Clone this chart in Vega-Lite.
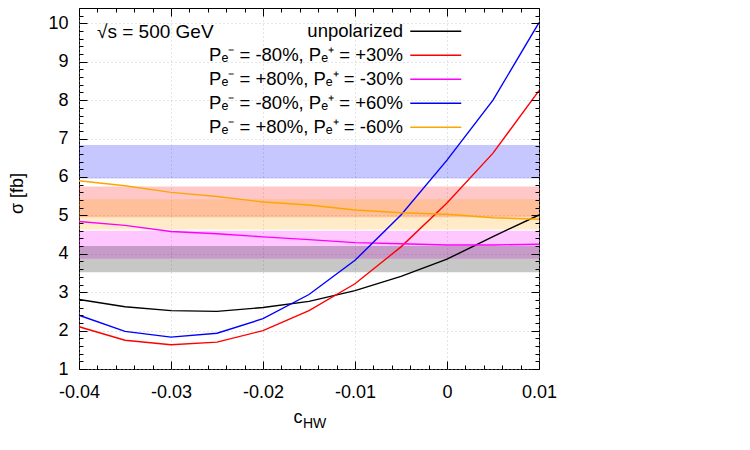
{
  "$schema": "https://vega.github.io/schema/vega-lite/v6.json",
  "width": 460,
  "height": 361,
  "autosize": {"type": "none"},
  "padding": {"left": 79, "top": 8, "right": 211, "bottom": 81},
  "background": "white",
  "title": {
    "text": "√s = 500 GeV",
    "anchor": "start",
    "frame": "group",
    "orient": "top",
    "offset": 0,
    "dx": 18,
    "dy": 49,
    "baseline": "alphabetic",
    "fontSize": 19,
    "fontWeight": "normal",
    "font": "Liberation Sans",
    "color": "black"
  },
  "config": {
    "view": {"stroke": "black", "strokeWidth": 1},
    "font": "Liberation Sans"
  },
  "datasets": {
    "curves": [
      {"c": -0.04, "sigma": 2.81, "series": "unpolarized"},
      {"c": -0.035, "sigma": 2.62, "series": "unpolarized"},
      {"c": -0.03, "sigma": 2.52, "series": "unpolarized"},
      {"c": -0.025, "sigma": 2.5, "series": "unpolarized"},
      {"c": -0.02, "sigma": 2.6, "series": "unpolarized"},
      {"c": -0.015, "sigma": 2.76, "series": "unpolarized"},
      {"c": -0.01, "sigma": 3.04, "series": "unpolarized"},
      {"c": -0.005, "sigma": 3.41, "series": "unpolarized"},
      {"c": 0, "sigma": 3.86, "series": "unpolarized"},
      {"c": 0.005, "sigma": 4.45, "series": "unpolarized"},
      {"c": 0.01, "sigma": 5.01, "series": "unpolarized"},
      {"c": -0.04, "sigma": 2.1, "series": "Pₑ⁻ = -80%, Pₑ⁺ = +30%"},
      {"c": -0.035, "sigma": 1.75, "series": "Pₑ⁻ = -80%, Pₑ⁺ = +30%"},
      {"c": -0.03, "sigma": 1.63, "series": "Pₑ⁻ = -80%, Pₑ⁺ = +30%"},
      {"c": -0.025, "sigma": 1.7, "series": "Pₑ⁻ = -80%, Pₑ⁺ = +30%"},
      {"c": -0.02, "sigma": 2.0, "series": "Pₑ⁻ = -80%, Pₑ⁺ = +30%"},
      {"c": -0.015, "sigma": 2.52, "series": "Pₑ⁻ = -80%, Pₑ⁺ = +30%"},
      {"c": -0.01, "sigma": 3.22, "series": "Pₑ⁻ = -80%, Pₑ⁺ = +30%"},
      {"c": -0.005, "sigma": 4.18, "series": "Pₑ⁻ = -80%, Pₑ⁺ = +30%"},
      {"c": 0, "sigma": 5.32, "series": "Pₑ⁻ = -80%, Pₑ⁺ = +30%"},
      {"c": 0.005, "sigma": 6.62, "series": "Pₑ⁻ = -80%, Pₑ⁺ = +30%"},
      {"c": 0.01, "sigma": 8.25, "series": "Pₑ⁻ = -80%, Pₑ⁺ = +30%"},
      {"c": -0.04, "sigma": 4.84, "series": "Pₑ⁻ = +80%, Pₑ⁺ = -30%"},
      {"c": -0.035, "sigma": 4.74, "series": "Pₑ⁻ = +80%, Pₑ⁺ = -30%"},
      {"c": -0.03, "sigma": 4.58, "series": "Pₑ⁻ = +80%, Pₑ⁺ = -30%"},
      {"c": -0.025, "sigma": 4.52, "series": "Pₑ⁻ = +80%, Pₑ⁺ = -30%"},
      {"c": -0.02, "sigma": 4.44, "series": "Pₑ⁻ = +80%, Pₑ⁺ = -30%"},
      {"c": -0.015, "sigma": 4.37, "series": "Pₑ⁻ = +80%, Pₑ⁺ = -30%"},
      {"c": -0.01, "sigma": 4.29, "series": "Pₑ⁻ = +80%, Pₑ⁺ = -30%"},
      {"c": -0.005, "sigma": 4.26, "series": "Pₑ⁻ = +80%, Pₑ⁺ = -30%"},
      {"c": 0, "sigma": 4.23, "series": "Pₑ⁻ = +80%, Pₑ⁺ = -30%"},
      {"c": 0.005, "sigma": 4.23, "series": "Pₑ⁻ = +80%, Pₑ⁺ = -30%"},
      {"c": 0.01, "sigma": 4.25, "series": "Pₑ⁻ = +80%, Pₑ⁺ = -30%"},
      {"c": -0.04, "sigma": 2.4, "series": "Pₑ⁻ = -80%, Pₑ⁺ = +60%"},
      {"c": -0.035, "sigma": 1.98, "series": "Pₑ⁻ = -80%, Pₑ⁺ = +60%"},
      {"c": -0.03, "sigma": 1.83, "series": "Pₑ⁻ = -80%, Pₑ⁺ = +60%"},
      {"c": -0.025, "sigma": 1.93, "series": "Pₑ⁻ = -80%, Pₑ⁺ = +60%"},
      {"c": -0.02, "sigma": 2.31, "series": "Pₑ⁻ = -80%, Pₑ⁺ = +60%"},
      {"c": -0.015, "sigma": 2.94, "series": "Pₑ⁻ = -80%, Pₑ⁺ = +60%"},
      {"c": -0.01, "sigma": 3.83, "series": "Pₑ⁻ = -80%, Pₑ⁺ = +60%"},
      {"c": -0.005, "sigma": 5.01, "series": "Pₑ⁻ = -80%, Pₑ⁺ = +60%"},
      {"c": 0, "sigma": 6.44, "series": "Pₑ⁻ = -80%, Pₑ⁺ = +60%"},
      {"c": 0.005, "sigma": 8.0, "series": "Pₑ⁻ = -80%, Pₑ⁺ = +60%"},
      {"c": 0.01, "sigma": 10.02, "series": "Pₑ⁻ = -80%, Pₑ⁺ = +60%"},
      {"c": -0.04, "sigma": 5.9, "series": "Pₑ⁻ = +80%, Pₑ⁺ = -60%"},
      {"c": -0.035, "sigma": 5.77, "series": "Pₑ⁻ = +80%, Pₑ⁺ = -60%"},
      {"c": -0.03, "sigma": 5.6, "series": "Pₑ⁻ = +80%, Pₑ⁺ = -60%"},
      {"c": -0.025, "sigma": 5.49, "series": "Pₑ⁻ = +80%, Pₑ⁺ = -60%"},
      {"c": -0.02, "sigma": 5.35, "series": "Pₑ⁻ = +80%, Pₑ⁺ = -60%"},
      {"c": -0.015, "sigma": 5.27, "series": "Pₑ⁻ = +80%, Pₑ⁺ = -60%"},
      {"c": -0.01, "sigma": 5.14, "series": "Pₑ⁻ = +80%, Pₑ⁺ = -60%"},
      {"c": -0.005, "sigma": 5.07, "series": "Pₑ⁻ = +80%, Pₑ⁺ = -60%"},
      {"c": 0, "sigma": 5.03, "series": "Pₑ⁻ = +80%, Pₑ⁺ = -60%"},
      {"c": 0.005, "sigma": 4.94, "series": "Pₑ⁻ = +80%, Pₑ⁺ = -60%"},
      {"c": 0.01, "sigma": 4.9, "series": "Pₑ⁻ = +80%, Pₑ⁺ = -60%"}
    ],
    "bands": [
      {"band": "blue", "lo": 5.96, "hi": 6.83},
      {"band": "red", "lo": 4.95, "hi": 5.75},
      {"band": "orange", "lo": 4.63, "hi": 5.42},
      {"band": "magenta", "lo": 3.87, "hi": 4.6},
      {"band": "grey", "lo": 3.52, "hi": 4.2}
    ]
  },
  "resolve": {"axis": {"x": "independent", "y": "independent"}},
  "layer": [
    {
      "data": {"name": "bands"},
      "mark": {"type": "rect", "fillOpacity": 0.22, "strokeWidth": 0},
      "encoding": {
        "y": {"field": "lo", "type": "quantitative", "scale": {"domain": [1, 10.4]}, "axis": null},
        "y2": {"field": "hi"},
        "fill": {
          "field": "band", "type": "nominal",
          "scale": {
            "domain": ["grey", "red", "magenta", "blue", "orange"],
            "range": ["#000000", "#ff0000", "#ff00ff", "#0000ff", "#ffa500"]
          },
          "legend": null
        }
      }
    },
    {
      "data": {"name": "curves"},
      "mark": {"type": "line", "strokeWidth": 1.4},
      "encoding": {
        "x": {
          "field": "c", "type": "quantitative",
          "scale": {"domain": [-0.04, 0.01]},
          "axis": {
            "orient": "bottom", "offset": 0,
            "values": [-0.04, -0.03, -0.02, -0.01, 0, 0.01],
            "labelExpr": "datum.value == 0 ? '0' : replace(format(datum.value, '.2f'), '−', '-')",
            "ticks": false, "tickSize": 0, "domain": false,
            "grid": true, "gridDash": [1, 3], "gridColor": "#b4b4b4", "gridWidth": 0.7,
            "labelFontSize": 18, "labelFont": "Liberation Sans", "labelColor": "black",
            "labelPadding": 14, "labelFlush": false, "labelOverlap": false, "labelBound": false,
            "title": "c", "titleFontSize": 18, "titleFontWeight": "normal", "titleFont": "Liberation Sans",
            "titleColor": "black", "titleX": 214, "titleY": 53, "titleAlign": "left", "titleBaseline": "alphabetic",
            "zindex": 0
          }
        },
        "y": {
          "field": "sigma", "type": "quantitative",
          "scale": {"domain": [1, 10.4]},
          "axis": {
            "orient": "left", "offset": 0,
            "values": [1, 2, 3, 4, 5, 6, 7, 8, 9, 10],
            "format": "d",
            "ticks": false, "tickSize": 0, "domain": false,
            "grid": true, "gridDash": [1, 3], "gridColor": "#b4b4b4", "gridWidth": 0.7,
            "labelFontSize": 18, "labelFont": "Liberation Sans", "labelColor": "black",
            "labelPadding": 11, "labelFlush": false, "labelOverlap": false, "labelBound": false,
            "title": "σ [fb]", "titleFontSize": 18, "titleFontWeight": "normal", "titleFont": "Liberation Sans",
            "titleColor": "black", "titleX": -62, "titleY": 185, "titleAngle": 270,
            "titleAlign": "center", "titleBaseline": "middle",
            "zindex": 0
          }
        },
        "color": {
          "field": "series", "type": "nominal",
          "scale": {
            "domain": ["unpolarized", "Pₑ⁻ = -80%, Pₑ⁺ = +30%", "Pₑ⁻ = +80%, Pₑ⁺ = -30%", "Pₑ⁻ = -80%, Pₑ⁺ = +60%", "Pₑ⁻ = +80%, Pₑ⁺ = -60%"],
            "range": ["#000000", "#ff0000", "#ff00ff", "#0000ff", "#ffa500"]
          },
          "legend": {
            "orient": "none", "legendX": 347.5, "legendY": 14,
            "title": null, "padding": 0,
            "symbolType": "M-5.1,0H5.1", "symbolSize": 100, "symbolStrokeWidth": 1.5,
            "symbolOffset": 0,
            "labelAlign": "right", "labelOffset": -42, "labelBaseline": "middle",
            "labelFontSize": 18.5, "labelFont": "Liberation Sans", "labelColor": "black",
            "labelLimit": 400, "rowPadding": 5
          }
        }
      }
    },
    {
      "data": {"name": "curves"},
      "mark": {"type": "point", "opacity": 0},
      "encoding": {
        "x": {
          "field": "c", "type": "quantitative",
          "scale": {"domain": [-0.04, 0.01]},
          "axis": {
            "orient": "top", "offset": -361,
            "values": [-0.04, -0.038, -0.036, -0.034, -0.032, -0.03, -0.028, -0.026, -0.024, -0.022, -0.02, -0.018, -0.016, -0.014, -0.012, -0.01, -0.008, -0.006, -0.004, -0.002, 0, 0.002, 0.004, 0.006, 0.008, 0.01],
            "labels": false, "grid": false, "domain": false,
            "tickColor": "black", "tickWidth": 1,
            "tickSize": {"condition": {"test": "abs(datum.value*100 - round(datum.value*100)) < 0.000001", "value": 8}, "value": 4},
            "title": "HW", "titleFontSize": 14, "titleFontWeight": "normal", "titleFont": "Liberation Sans",
            "titleColor": "black", "titleX": 223.5, "titleY": 58.3, "titleAlign": "left", "titleBaseline": "alphabetic",
            "titleAngle": 0,
            "zindex": 1
          }
        },
        "y": {
          "field": "sigma", "type": "quantitative",
          "scale": {"domain": [1, 10.4]},
          "axis": {
            "orient": "right", "offset": -460,
            "values": [1, 1.2, 1.4, 1.6, 1.8, 2, 2.2, 2.4, 2.6, 2.8, 3, 3.2, 3.4, 3.6, 3.8, 4, 4.2, 4.4, 4.6, 4.8, 5, 5.2, 5.4, 5.6, 5.8, 6, 6.2, 6.4, 6.6, 6.8, 7, 7.2, 7.4, 7.6, 7.8, 8, 8.2, 8.4, 8.6, 8.8, 9, 9.2, 9.4, 9.6, 9.8, 10, 10.2, 10.4],
            "labels": false, "grid": false, "domain": false, "title": null,
            "tickColor": "black", "tickWidth": 1,
            "tickSize": {"condition": {"test": "abs(datum.value - round(datum.value)) < 0.000001", "value": 8}, "value": 4},
            "zindex": 1
          }
        }
      }
    },
    {
      "data": {"name": "curves"},
      "mark": {"type": "point", "opacity": 0},
      "encoding": {
        "x": {
          "field": "c", "type": "quantitative",
          "scale": {"domain": [-0.04, 0.01]},
          "axis": {
            "orient": "bottom", "offset": -361,
            "values": [-0.04, -0.038, -0.036, -0.034, -0.032, -0.03, -0.028, -0.026, -0.024, -0.022, -0.02, -0.018, -0.016, -0.014, -0.012, -0.01, -0.008, -0.006, -0.004, -0.002, 0, 0.002, 0.004, 0.006, 0.008, 0.01],
            "labels": false, "grid": false, "domain": false, "title": null,
            "tickColor": "black", "tickWidth": 1,
            "tickSize": {"condition": {"test": "abs(datum.value*100 - round(datum.value*100)) < 0.000001", "value": 8}, "value": 4},
            "zindex": 1
          }
        },
        "y": {
          "field": "sigma", "type": "quantitative",
          "scale": {"domain": [1, 10.4]},
          "axis": {
            "orient": "left", "offset": -460,
            "values": [1, 1.2, 1.4, 1.6, 1.8, 2, 2.2, 2.4, 2.6, 2.8, 3, 3.2, 3.4, 3.6, 3.8, 4, 4.2, 4.4, 4.6, 4.8, 5, 5.2, 5.4, 5.6, 5.8, 6, 6.2, 6.4, 6.6, 6.8, 7, 7.2, 7.4, 7.6, 7.8, 8, 8.2, 8.4, 8.6, 8.8, 9, 9.2, 9.4, 9.6, 9.8, 10, 10.2, 10.4],
            "labels": false, "grid": false, "domain": false, "title": null,
            "tickColor": "black", "tickWidth": 1,
            "tickSize": {"condition": {"test": "abs(datum.value - round(datum.value)) < 0.000001", "value": 8}, "value": 4},
            "zindex": 1
          }
        }
      }
    }
  ]
}
